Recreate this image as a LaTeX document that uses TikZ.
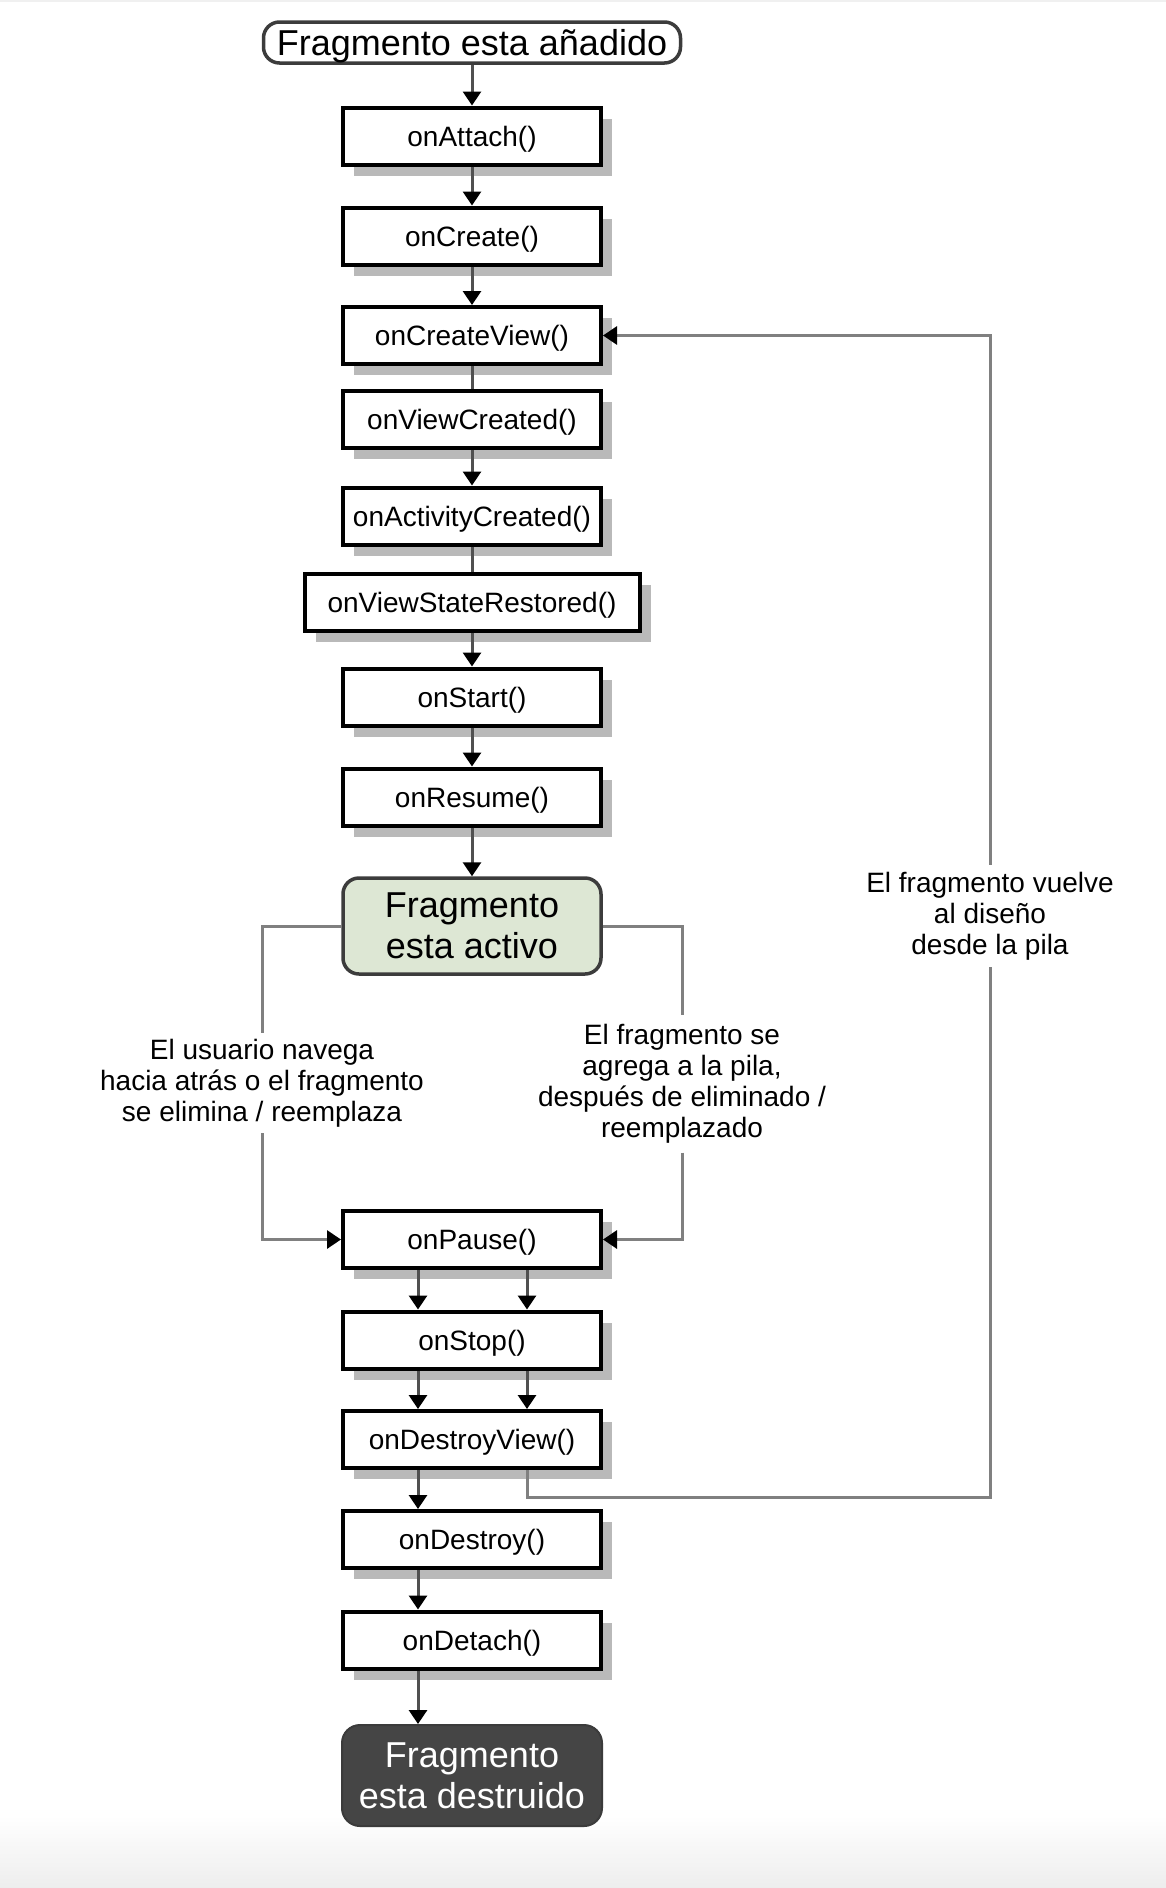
\documentclass[tikz,border=0pt]{standalone}
\usepackage{fontspec}
\setmainfont{Liberation Sans}
\usetikzlibrary{arrows.meta,shadows}

\definecolor{linedark}{HTML}{505050}
\definecolor{linegray}{HTML}{808080}
\definecolor{boxshadow}{HTML}{B9B9B9}
\definecolor{activefill}{HTML}{DDE7D4}
\definecolor{deadfill}{HTML}{454545}
\definecolor{roundedge}{HTML}{3C3C3C}

\tikzset{
  stepbox/.style={draw=black, line width=4pt, fill=white,
    minimum width=258pt, minimum height=57pt, inner sep=0pt,
    text height=20.5pt, text depth=0pt,
    font=\fontsize{28}{31}\selectfont,
    drop shadow={opacity=1, fill=boxshadow, shadow xshift=11pt, shadow yshift=-11pt}},
  widebox/.style={stepbox, minimum width=335pt},
  startbox/.style={draw=roundedge, line width=3.5pt, fill=white, rounded corners=16pt,
    minimum width=417pt, minimum height=41pt, inner sep=0pt,
    text height=26pt, text depth=0pt,
    font=\fontsize{36}{41}\selectfont},
  activebox/.style={draw=roundedge, line width=3.5pt, fill=activefill, rounded corners=16pt,
    minimum width=258pt, minimum height=96pt, inner sep=0pt, align=center,
    font=\fontsize{36}{41}\selectfont},
  endbox/.style={draw=deadfill!85!black, line width=2pt, fill=deadfill, rounded corners=18pt,
    minimum width=260pt, minimum height=101pt, inner sep=0pt, align=center, text=white,
    font=\fontsize{36}{41}\selectfont},
  lbl/.style={align=center, inner xsep=2pt, inner ysep=0pt,
    font=\fontsize{28}{31}\selectfont},
  tip/.style={-{Triangle[length=14pt,width=18pt,color=black,fill=black]}},
  flow/.style={draw=linedark, line width=3pt},
  branch/.style={draw=linegray, line width=3pt},
}

\begin{document}
\begin{tikzpicture}[x=1pt,y=-1pt]
  % page background with the soft grey band at the foot
  \fill[white] (0,0) rectangle (1166,1888);
  \fill[black!6] (0,0) rectangle (1166,2);
  \shade[top color=white, bottom color=black!7] (0,1815) rectangle (1166,1888);
  \useasboundingbox (0,0) rectangle (1166,1888);

  % lifecycle states and callbacks
  \node[startbox] (start) at (472,42.5) {Fragmento esta añadido};
  \node[stepbox] (attach) at (472,136) {onAttach()};
  \node[stepbox] (create) at (472,236) {onCreate()};
  \node[stepbox] (cview) at (472,335.5) {onCreateView()};
  \node[stepbox] (vcreated) at (472,419.5) {onViewCreated()};
  \node[stepbox] (acreated) at (472,516) {onActivityCreated()};
  \node[widebox] (restored) at (472,602) {onViewStateRestored()};
  \node[stepbox] (startcb) at (472,697) {onStart()};
  \node[stepbox] (resume) at (472,797) {onResume()};
  \node[activebox] (active) at (472,926) {Fragmento\\esta activo};
  \node[stepbox] (pause) at (472,1239.5) {onPause()};
  \node[stepbox] (stop) at (472,1340) {onStop()};
  \node[stepbox] (dview) at (472,1439.5) {onDestroyView()};
  \node[stepbox] (destroy) at (472,1539.5) {onDestroy()};
  \node[stepbox] (detach) at (472,1640) {onDetach()};
  \node[endbox] (dead) at (472,1775.5) {Fragmento\\esta destruido};

  % transition labels
  \node[lbl, minimum height=100pt] (lblL) at (262,1083)
    {El usuario navega\\hacia atrás o el fragmento\\se elimina / reemplaza};
  \node[lbl, minimum height=137pt] (lblM) at (682,1084)
    {El fragmento se\\agrega a la pila,\\después de eliminado /\\reemplazado};
  \node[lbl, minimum height=102pt] (lblB) at (990,916)
    {El fragmento vuelve\\al diseño\\desde la pila};

  % main sequence
  \draw[flow,tip] (start) -- (attach);
  \draw[flow,tip] (attach) -- (create);
  \draw[flow,tip] (create) -- (cview);
  \draw[flow] (cview) -- (vcreated);
  \draw[flow,tip] (vcreated) -- (acreated);
  \draw[flow] (acreated) -- (restored);
  \draw[flow,tip] (restored) -- (startcb);
  \draw[flow,tip] (startcb) -- (resume);
  \draw[flow,tip] (resume) -- (active);

  % leaving the active state
  \draw[branch] (active.west) -| (lblL.north);
  \draw[branch,tip] (lblL.south) |- (pause.west);
  \draw[branch] (active.east) -| (lblM.north);
  \draw[branch,tip] (lblM.south) |- (pause.east);

  % teardown, two parallel paths
  \draw[flow,tip] ([xshift=-54pt]pause.south) -- ([xshift=-54pt]stop.north);
  \draw[flow,tip] ([xshift=55pt]pause.south) -- ([xshift=55pt]stop.north);
  \draw[flow,tip] ([xshift=-54pt]stop.south) -- ([xshift=-54pt]dview.north);
  \draw[flow,tip] ([xshift=55pt]stop.south) -- ([xshift=55pt]dview.north);
  \draw[flow,tip] ([xshift=-54pt]dview.south) -- ([xshift=-54pt]destroy.north);
  \draw[flow,tip] ([xshift=-54pt]destroy.south) -- ([xshift=-54pt]detach.north);
  \draw[flow,tip] ([xshift=-54pt]detach.south) -- ([xshift=-54pt]dead.north);

  % back stack return loop
  \coordinate (loopc) at (990,1497);
  \draw[branch] ([xshift=55pt]dview.south) |- (loopc) -- (lblB.south);
  \draw[branch,tip] (lblB.north) |- (cview.east);
\end{tikzpicture}
\end{document}
